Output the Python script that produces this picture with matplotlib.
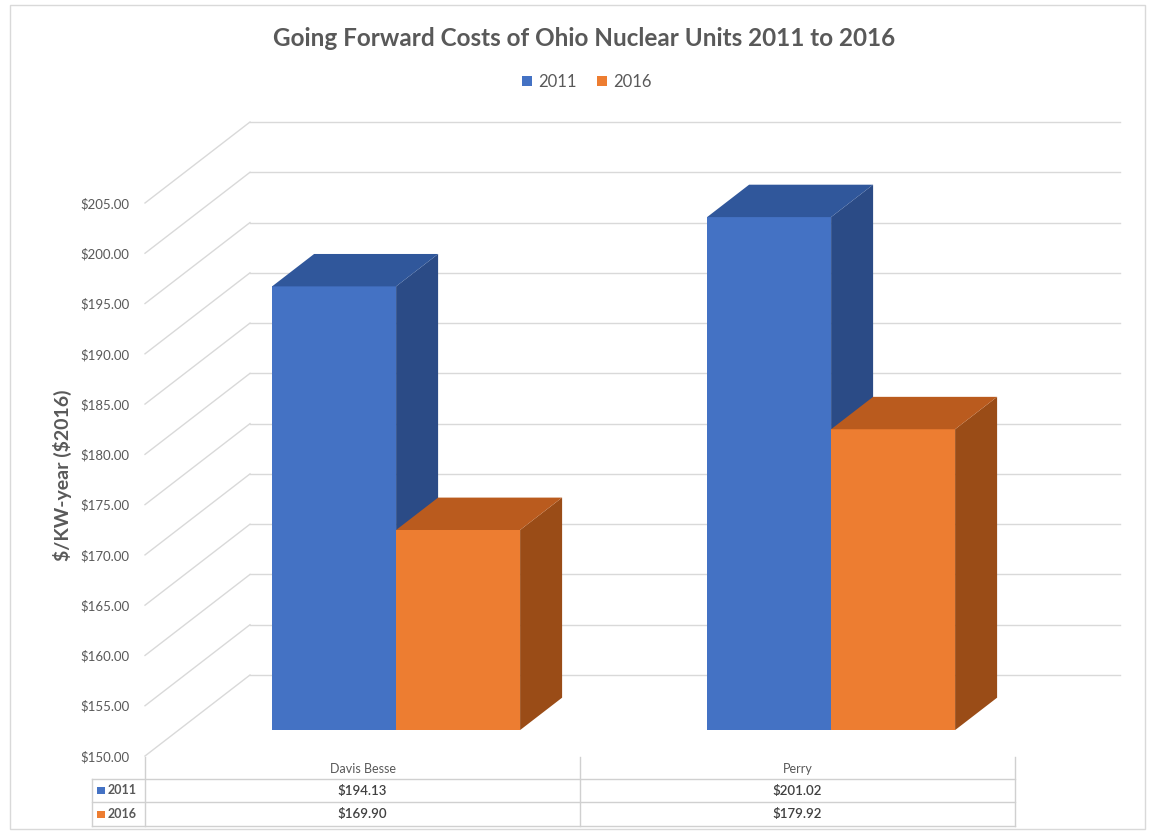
"""
Going forward costs of Ohio nuclear units, Excel-style 3D column chart with data table
"""

import matplotlib
matplotlib.use("Agg")
import matplotlib.pyplot as plt
import matplotlib.transforms as mtrans
from matplotlib.patches import Polygon, Patch, Rectangle
from matplotlib.ticker import FuncFormatter

# Data
plants = ["Davis Besse", "Perry"]
years = ["2011", "2016"]
cost_2011 = [194.13, 201.02]
cost_2016 = [169.90, 179.92]
y_ticks = list(range(150, 206, 5))

# Colours (front, top, side)
front_cols = ["#4472C4", "#ED7D31"]
top_cols = ["#30579B", "#BA5B1E"]
side_cols = ["#2B4B86", "#9A4C17"]
grey_txt = "#595959"
grid_col = "#D9D9D9"

plt.rcParams['font.family'] = ['Lato', 'DejaVu Sans']

W_PX, H_PX = 1151, 832
fig = plt.figure(figsize=(W_PX / 100, H_PX / 100), dpi=100)

# front plane of the plot: x 145..1015 px, y 756..203 px
ax = fig.add_axes([145 / W_PX, (H_PX - 756) / H_PX, 870 / W_PX, 553 / H_PX])
ax.set_xlim(-0.5, 1.5)
ax.set_ylim(150, 205)
for s in ax.spines.values():
    s.set_visible(False)
ax.set_xticks([])
ax.set_yticks(y_ticks)
ax.yaxis.set_major_formatter(FuncFormatter(lambda v, p: r"\${:.2f}".format(v)))
ax.tick_params(axis='y', length=0, pad=11, labelsize=9.5, labelcolor=grey_txt)

# oblique depth offset (full depth) in data units
px_per_x = 870 / 2
px_per_y = 553 / 55
DX = 105 / px_per_x
DY = 81 / px_per_y
D0 = 0.32   # depth of bar front face
BD = 0.40   # depth of the bars
D1 = D0 + BD
BW = 124 / px_per_x

# walls: left-wall diagonals + back-wall gridlines
for t in y_ticks:
    ax.plot([-0.5, -0.5 + DX], [t, t + DY], color=grid_col, lw=1, clip_on=False, zorder=1)
    ax.plot([-0.5 + DX, 1.5 + DX], [t + DY, t + DY], color=grid_col, lw=1, clip_on=False, zorder=1)

# bars
z = 2
for i in range(len(plants)):
    for j, vals in enumerate([cost_2011, cost_2016]):
        v = vals[i]
        x0 = i - BW + j * BW
        x1 = x0 + BW
        ax.bar(x0 + D0 * DX, v - 150, width=BW, bottom=150 + D0 * DY, align='edge',
               color=front_cols[j], zorder=z, linewidth=0)
        side = [(x1 + D0 * DX, 150 + D0 * DY), (x1 + D1 * DX, 150 + D1 * DY),
                (x1 + D1 * DX, v + D1 * DY), (x1 + D0 * DX, v + D0 * DY)]
        top = [(x0 + D0 * DX, v + D0 * DY), (x1 + D0 * DX, v + D0 * DY),
               (x1 + D1 * DX, v + D1 * DY), (x0 + D1 * DX, v + D1 * DY)]
        ax.add_patch(Polygon(side, closed=True, facecolor=side_cols[j], edgecolor='none',
                             zorder=z, clip_on=False))
        ax.add_patch(Polygon(top, closed=True, facecolor=top_cols[j], edgecolor='none',
                             zorder=z, clip_on=False))
        z += 1

# data table below the plot (x in data units, y in inches from bottom)
tr = mtrans.blended_transform_factory(ax.transData, fig.dpi_scale_trans)


def py(p):
    return (H_PX - p) / 100


tbl_col = "#D0D0D0"
x_left = -0.5 - 53 / px_per_x
row_lines = [779, 802, 826]
for r in row_lines:
    ax.plot([x_left, 1.5], [py(r), py(r)], color=tbl_col, lw=1, transform=tr, clip_on=False)
for xv in [-0.5, 0.5, 1.5]:
    ax.plot([xv, xv], [py(757), py(826)], color=tbl_col, lw=1, transform=tr, clip_on=False)
ax.plot([x_left, x_left], [py(779), py(826)], color=tbl_col, lw=1, transform=tr, clip_on=False)

for i, name in enumerate(plants):
    ax.text(i, py(769), name, transform=tr, ha='center', va='center', fontsize=9,
            color=grey_txt, clip_on=False)
    for j, vals in enumerate([cost_2011, cost_2016]):
        ax.text(i, py(790.5 + 23.5 * j), r"\${:.2f}".format(vals[i]), transform=tr,
                ha='center', va='center', fontsize=9.5, fontweight='semibold',
                color="#404040", clip_on=False)

for j, yr in enumerate(years):
    yc = py(790.5 + 23.5 * j)
    ax.add_patch(Rectangle((x_left + 5 / px_per_x, yc - 0.035), 8 / px_per_x, 0.07,
                           facecolor=front_cols[j], edgecolor='none', transform=tr,
                           clip_on=False))
    ax.text(x_left + 16 / px_per_x, yc, yr, transform=tr, ha='left', va='center',
            fontsize=9, fontweight='bold', color=grey_txt, clip_on=False)

# title, legend, axis title
fig.text(584 / W_PX, 1 - 38 / H_PX, "Going Forward Costs of Ohio Nuclear Units 2011 to 2016",
         ha='center', va='center', fontsize=17.5, fontweight='bold', color=grey_txt)
handles = [Patch(facecolor=c, edgecolor='none') for c in front_cols]
leg = fig.legend(handles, years, loc='center', bbox_to_anchor=(587 / W_PX, 1 - 82 / H_PX),
                 ncol=2, frameon=False, fontsize=12, handlelength=0.6, handleheight=0.6,
                 handletextpad=0.4, columnspacing=1.2)
for t in leg.get_texts():
    t.set_color(grey_txt)
fig.text(62 / W_PX, 1 - 475 / H_PX, r"\$/KW-year (\$2016)", rotation=90, ha='center',
         va='center', fontsize=14, fontweight='bold', color=grey_txt)

# chart border
fig.add_artist(Rectangle((10 / W_PX, 3 / H_PX), 1135 / W_PX, 824 / H_PX,
                         transform=fig.transFigure, fill=False, edgecolor=grid_col, lw=1))

fig.savefig("out.png", dpi=100)
